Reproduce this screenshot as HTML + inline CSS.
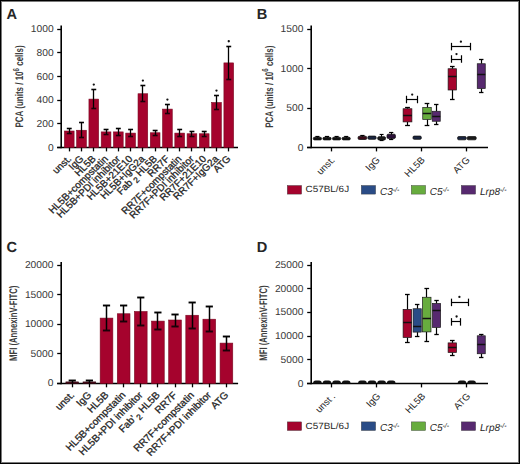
<!DOCTYPE html>
<html><head><meta charset="utf-8"><style>
html,body{margin:0;padding:0;background:#fff;}
#fig{position:relative;width:520px;height:464px;overflow:hidden;background:#fff;}
svg{position:absolute;left:0;top:0;}
text{font-family:"Liberation Sans",sans-serif;fill:#262626;text-rendering:geometricPrecision;}
.h{stroke:#222;stroke-width:0.28px;}
</style></head><body><div id="fig">
<svg width="520" height="464" viewBox="0 0 520 464">
<rect x="0.5" y="0.5" width="519" height="463" fill="none" stroke="#000" stroke-width="1"/>
<rect x="1.5" y="1.5" width="517" height="461" fill="none" stroke="#7a7a7a" stroke-width="1"/>
<text x="6.50" y="18.60" font-size="14.6" text-anchor="start" font-weight="bold">A</text>
<line x1="61.20" y1="25.50" x2="61.20" y2="148.30" stroke="#000" stroke-width="1.6"/>
<line x1="57.20" y1="147.50" x2="61.10" y2="147.50" stroke="#000" stroke-width="1.3"/>
<text transform="translate(53.60,150.50) scale(1.025,1)" font-size="10.0" text-anchor="end" style="fill:#383838">0</text>
<line x1="57.20" y1="123.50" x2="61.10" y2="123.50" stroke="#000" stroke-width="1.3"/>
<text transform="translate(53.60,126.84) scale(1.025,1)" font-size="10.0" text-anchor="end" style="fill:#383838">200</text>
<line x1="57.20" y1="100.50" x2="61.10" y2="100.50" stroke="#000" stroke-width="1.3"/>
<text transform="translate(53.60,103.18) scale(1.025,1)" font-size="10.0" text-anchor="end" style="fill:#383838">400</text>
<line x1="57.20" y1="76.50" x2="61.10" y2="76.50" stroke="#000" stroke-width="1.3"/>
<text transform="translate(53.60,79.52) scale(1.025,1)" font-size="10.0" text-anchor="end" style="fill:#383838">600</text>
<line x1="57.20" y1="52.50" x2="61.10" y2="52.50" stroke="#000" stroke-width="1.3"/>
<text transform="translate(53.60,55.86) scale(1.025,1)" font-size="10.0" text-anchor="end" style="fill:#383838">800</text>
<line x1="57.20" y1="29.50" x2="61.10" y2="29.50" stroke="#000" stroke-width="1.3"/>
<text transform="translate(53.60,32.20) scale(1.025,1)" font-size="10.0" text-anchor="end" style="fill:#383838">1000</text>
<line x1="57.10" y1="147.50" x2="238.00" y2="147.50" stroke="#000" stroke-width="1.5"/>
<rect x="64.40" y="131.00" width="9.70" height="16.60" fill="#A5032D" stroke="#7a0a22" stroke-width="0.6"/>
<line x1="69.50" y1="128.10" x2="69.50" y2="133.90" stroke="#000" stroke-width="1.3"/>
<line x1="66.80" y1="128.50" x2="71.70" y2="128.50" stroke="#000" stroke-width="1.6"/>
<line x1="66.80" y1="133.50" x2="71.70" y2="133.50" stroke="#1a0008" stroke-width="1.6"/>
<line x1="69.50" y1="147.60" x2="69.50" y2="151.40" stroke="#000" stroke-width="1.3"/>
<rect x="76.67" y="130.25" width="9.70" height="17.35" fill="#A5032D" stroke="#7a0a22" stroke-width="0.6"/>
<line x1="81.50" y1="122.90" x2="81.50" y2="137.60" stroke="#000" stroke-width="1.3"/>
<line x1="79.07" y1="122.50" x2="83.97" y2="122.50" stroke="#000" stroke-width="1.6"/>
<line x1="79.07" y1="137.50" x2="83.97" y2="137.50" stroke="#1a0008" stroke-width="1.6"/>
<line x1="81.50" y1="147.60" x2="81.50" y2="151.40" stroke="#000" stroke-width="1.3"/>
<rect x="88.94" y="99.10" width="9.70" height="48.50" fill="#A5032D" stroke="#7a0a22" stroke-width="0.6"/>
<line x1="93.50" y1="89.60" x2="93.50" y2="108.60" stroke="#000" stroke-width="1.3"/>
<line x1="91.34" y1="89.50" x2="96.24" y2="89.50" stroke="#000" stroke-width="1.6"/>
<line x1="91.34" y1="108.50" x2="96.24" y2="108.50" stroke="#1a0008" stroke-width="1.6"/>
<line x1="93.50" y1="147.60" x2="93.50" y2="151.40" stroke="#000" stroke-width="1.3"/>
<circle cx="93.79" cy="84.60" r="1.15" fill="#111"/>
<rect x="101.21" y="131.90" width="9.70" height="15.70" fill="#A5032D" stroke="#7a0a22" stroke-width="0.6"/>
<line x1="106.50" y1="129.40" x2="106.50" y2="134.40" stroke="#000" stroke-width="1.3"/>
<line x1="103.61" y1="129.50" x2="108.51" y2="129.50" stroke="#000" stroke-width="1.6"/>
<line x1="103.61" y1="134.50" x2="108.51" y2="134.50" stroke="#1a0008" stroke-width="1.6"/>
<line x1="106.50" y1="147.60" x2="106.50" y2="151.40" stroke="#000" stroke-width="1.3"/>
<rect x="113.48" y="131.90" width="9.70" height="15.70" fill="#A5032D" stroke="#7a0a22" stroke-width="0.6"/>
<line x1="118.50" y1="128.40" x2="118.50" y2="135.40" stroke="#000" stroke-width="1.3"/>
<line x1="115.88" y1="128.50" x2="120.78" y2="128.50" stroke="#000" stroke-width="1.6"/>
<line x1="115.88" y1="135.50" x2="120.78" y2="135.50" stroke="#1a0008" stroke-width="1.6"/>
<line x1="118.50" y1="147.60" x2="118.50" y2="151.40" stroke="#000" stroke-width="1.3"/>
<rect x="125.75" y="133.10" width="9.70" height="14.50" fill="#A5032D" stroke="#7a0a22" stroke-width="0.6"/>
<line x1="130.50" y1="129.60" x2="130.50" y2="136.60" stroke="#000" stroke-width="1.3"/>
<line x1="128.15" y1="129.50" x2="133.05" y2="129.50" stroke="#000" stroke-width="1.6"/>
<line x1="128.15" y1="136.50" x2="133.05" y2="136.50" stroke="#1a0008" stroke-width="1.6"/>
<line x1="130.50" y1="147.60" x2="130.50" y2="151.40" stroke="#000" stroke-width="1.3"/>
<rect x="138.02" y="93.75" width="9.70" height="53.85" fill="#A5032D" stroke="#7a0a22" stroke-width="0.6"/>
<line x1="142.50" y1="85.60" x2="142.50" y2="101.90" stroke="#000" stroke-width="1.3"/>
<line x1="140.42" y1="85.50" x2="145.32" y2="85.50" stroke="#000" stroke-width="1.6"/>
<line x1="140.42" y1="101.50" x2="145.32" y2="101.50" stroke="#1a0008" stroke-width="1.6"/>
<line x1="142.50" y1="147.60" x2="142.50" y2="151.40" stroke="#000" stroke-width="1.3"/>
<circle cx="142.87" cy="80.60" r="1.15" fill="#111"/>
<rect x="150.29" y="132.75" width="9.70" height="14.85" fill="#A5032D" stroke="#7a0a22" stroke-width="0.6"/>
<line x1="155.50" y1="130.25" x2="155.50" y2="135.25" stroke="#000" stroke-width="1.3"/>
<line x1="152.69" y1="130.50" x2="157.59" y2="130.50" stroke="#000" stroke-width="1.6"/>
<line x1="152.69" y1="135.50" x2="157.59" y2="135.50" stroke="#1a0008" stroke-width="1.6"/>
<line x1="155.50" y1="147.60" x2="155.50" y2="151.40" stroke="#000" stroke-width="1.3"/>
<rect x="162.56" y="109.10" width="9.70" height="38.50" fill="#A5032D" stroke="#7a0a22" stroke-width="0.6"/>
<line x1="167.50" y1="104.60" x2="167.50" y2="113.60" stroke="#000" stroke-width="1.3"/>
<line x1="164.96" y1="104.50" x2="169.86" y2="104.50" stroke="#000" stroke-width="1.6"/>
<line x1="164.96" y1="113.50" x2="169.86" y2="113.50" stroke="#1a0008" stroke-width="1.6"/>
<line x1="167.50" y1="147.60" x2="167.50" y2="151.40" stroke="#000" stroke-width="1.3"/>
<circle cx="167.41" cy="99.60" r="1.15" fill="#111"/>
<rect x="174.83" y="133.10" width="9.70" height="14.50" fill="#A5032D" stroke="#7a0a22" stroke-width="0.6"/>
<line x1="179.50" y1="129.75" x2="179.50" y2="136.45" stroke="#000" stroke-width="1.3"/>
<line x1="177.23" y1="129.50" x2="182.13" y2="129.50" stroke="#000" stroke-width="1.6"/>
<line x1="177.23" y1="136.50" x2="182.13" y2="136.50" stroke="#1a0008" stroke-width="1.6"/>
<line x1="179.50" y1="147.60" x2="179.50" y2="151.40" stroke="#000" stroke-width="1.3"/>
<rect x="187.10" y="133.75" width="9.70" height="13.85" fill="#A5032D" stroke="#7a0a22" stroke-width="0.6"/>
<line x1="191.50" y1="131.00" x2="191.50" y2="136.50" stroke="#000" stroke-width="1.3"/>
<line x1="189.50" y1="131.50" x2="194.40" y2="131.50" stroke="#000" stroke-width="1.6"/>
<line x1="189.50" y1="136.50" x2="194.40" y2="136.50" stroke="#1a0008" stroke-width="1.6"/>
<line x1="191.50" y1="147.60" x2="191.50" y2="151.40" stroke="#000" stroke-width="1.3"/>
<rect x="199.37" y="133.75" width="9.70" height="13.85" fill="#A5032D" stroke="#7a0a22" stroke-width="0.6"/>
<line x1="204.50" y1="131.50" x2="204.50" y2="136.00" stroke="#000" stroke-width="1.3"/>
<line x1="201.77" y1="131.50" x2="206.67" y2="131.50" stroke="#000" stroke-width="1.6"/>
<line x1="201.77" y1="136.50" x2="206.67" y2="136.50" stroke="#1a0008" stroke-width="1.6"/>
<line x1="204.50" y1="147.60" x2="204.50" y2="151.40" stroke="#000" stroke-width="1.3"/>
<rect x="211.64" y="102.50" width="9.70" height="45.10" fill="#A5032D" stroke="#7a0a22" stroke-width="0.6"/>
<line x1="216.50" y1="95.60" x2="216.50" y2="109.40" stroke="#000" stroke-width="1.3"/>
<line x1="214.04" y1="95.50" x2="218.94" y2="95.50" stroke="#000" stroke-width="1.6"/>
<line x1="214.04" y1="109.50" x2="218.94" y2="109.50" stroke="#1a0008" stroke-width="1.6"/>
<line x1="216.50" y1="147.60" x2="216.50" y2="151.40" stroke="#000" stroke-width="1.3"/>
<circle cx="216.49" cy="90.60" r="1.15" fill="#111"/>
<rect x="223.91" y="62.90" width="9.70" height="84.70" fill="#A5032D" stroke="#7a0a22" stroke-width="0.6"/>
<line x1="228.50" y1="46.25" x2="228.50" y2="79.55" stroke="#000" stroke-width="1.3"/>
<line x1="226.31" y1="46.50" x2="231.21" y2="46.50" stroke="#000" stroke-width="1.6"/>
<line x1="226.31" y1="79.50" x2="231.21" y2="79.50" stroke="#1a0008" stroke-width="1.6"/>
<line x1="228.50" y1="147.60" x2="228.50" y2="151.40" stroke="#000" stroke-width="1.3"/>
<circle cx="228.76" cy="41.25" r="1.15" fill="#111"/>
<text class="h" transform="translate(71.85,159.40) scale(1.05,1) rotate(-45.7)" font-size="9.65" text-anchor="end">unst.</text>
<text class="h" transform="translate(84.12,159.40) scale(1.05,1) rotate(-45.7)" font-size="9.65" text-anchor="end">IgG</text>
<text class="h" transform="translate(96.39,159.40) scale(1.05,1) rotate(-45.7)" font-size="9.65" text-anchor="end">HL5B</text>
<text class="h" transform="translate(108.66,159.40) scale(1.05,1) rotate(-45.7)" font-size="9.65" text-anchor="end">HL5B+compstatin</text>
<text class="h" transform="translate(120.93,159.40) scale(1.05,1) rotate(-45.7)" font-size="9.65" text-anchor="end">HL5B+PDI inhibitor</text>
<text class="h" transform="translate(133.20,159.40) scale(1.05,1) rotate(-45.7)" font-size="9.65" text-anchor="end">HL5B+21E10</text>
<text class="h" transform="translate(145.47,159.40) scale(1.05,1) rotate(-45.7)" font-size="9.65" text-anchor="end">HL5B+IgG2a</text>
<text class="h" transform="translate(157.74,159.40) scale(1.05,1) rotate(-45.7)" font-size="9.65" text-anchor="end">Fab<tspan font-size="8" dy="2.6"> 2</tspan><tspan dy="-2.6"> HL5B</tspan></text>
<text class="h" transform="translate(170.01,159.40) scale(1.05,1) rotate(-45.7)" font-size="9.65" text-anchor="end">RR7F</text>
<text class="h" transform="translate(182.28,159.40) scale(1.05,1) rotate(-45.7)" font-size="9.65" text-anchor="end">RR7F+compstatin</text>
<text class="h" transform="translate(194.55,159.40) scale(1.05,1) rotate(-45.7)" font-size="9.65" text-anchor="end">RR7F+PDI inhibitor</text>
<text class="h" transform="translate(206.82,159.40) scale(1.05,1) rotate(-45.7)" font-size="9.65" text-anchor="end">RR7F+21E10</text>
<text class="h" transform="translate(219.09,159.40) scale(1.05,1) rotate(-45.7)" font-size="9.65" text-anchor="end">RR7F+IgG2a</text>
<text class="h" transform="translate(231.36,159.40) scale(1.05,1) rotate(-45.7)" font-size="9.65" text-anchor="end">ATG</text>
<text transform="translate(22.80,127.50) rotate(-90) scale(0.726,1)" font-size="11" font-weight="bold" style="fill:#3c3c3c">PCA (units / 10<tspan font-size="8.5" dy="-4.2">6</tspan><tspan dy="4.2"> cells)</tspan></text>
<text x="6.60" y="251.90" font-size="14.6" text-anchor="start" font-weight="bold">C</text>
<line x1="61.20" y1="261.90" x2="61.20" y2="384.20" stroke="#000" stroke-width="1.6"/>
<line x1="57.20" y1="383.50" x2="61.10" y2="383.50" stroke="#000" stroke-width="1.3"/>
<text transform="translate(53.40,386.40) scale(1.025,1)" font-size="10.0" text-anchor="end" style="fill:#383838">0</text>
<line x1="57.20" y1="353.50" x2="61.10" y2="353.50" stroke="#000" stroke-width="1.3"/>
<text transform="translate(53.40,356.84) scale(1.025,1)" font-size="10.0" text-anchor="end" style="fill:#383838">5000</text>
<line x1="57.20" y1="324.50" x2="61.10" y2="324.50" stroke="#000" stroke-width="1.3"/>
<text transform="translate(53.40,327.27) scale(1.025,1)" font-size="10.0" text-anchor="end" style="fill:#383838">10000</text>
<line x1="57.20" y1="294.50" x2="61.10" y2="294.50" stroke="#000" stroke-width="1.3"/>
<text transform="translate(53.40,297.71) scale(1.025,1)" font-size="10.0" text-anchor="end" style="fill:#383838">15000</text>
<line x1="57.20" y1="265.50" x2="61.10" y2="265.50" stroke="#000" stroke-width="1.3"/>
<text transform="translate(53.40,268.15) scale(1.025,1)" font-size="10.0" text-anchor="end" style="fill:#383838">20000</text>
<line x1="57.10" y1="383.50" x2="238.10" y2="383.50" stroke="#000" stroke-width="1.5"/>
<rect x="65.90" y="381.90" width="12.70" height="1.60" fill="#4a0a1a" stroke="#300510" stroke-width="0.6"/>
<line x1="72.50" y1="380.60" x2="72.50" y2="383.20" stroke="#000" stroke-width="1.5"/>
<line x1="68.65" y1="380.50" x2="75.85" y2="380.50" stroke="#000" stroke-width="1.9"/>
<line x1="72.50" y1="383.50" x2="72.50" y2="387.30" stroke="#000" stroke-width="1.3"/>
<rect x="83.03" y="381.90" width="12.70" height="1.60" fill="#4a0a1a" stroke="#300510" stroke-width="0.6"/>
<line x1="89.50" y1="380.60" x2="89.50" y2="383.20" stroke="#000" stroke-width="1.5"/>
<line x1="85.78" y1="380.50" x2="92.98" y2="380.50" stroke="#000" stroke-width="1.9"/>
<line x1="89.50" y1="383.50" x2="89.50" y2="387.30" stroke="#000" stroke-width="1.3"/>
<rect x="100.16" y="318.10" width="12.70" height="65.40" fill="#A5032D" stroke="#7a0a22" stroke-width="0.6"/>
<line x1="106.50" y1="305.60" x2="106.50" y2="330.60" stroke="#000" stroke-width="1.5"/>
<line x1="102.91" y1="305.50" x2="110.11" y2="305.50" stroke="#000" stroke-width="1.9"/>
<line x1="102.91" y1="330.50" x2="110.11" y2="330.50" stroke="#1a0008" stroke-width="1.9"/>
<line x1="106.50" y1="383.50" x2="106.50" y2="387.30" stroke="#000" stroke-width="1.3"/>
<rect x="117.29" y="313.75" width="12.70" height="69.75" fill="#A5032D" stroke="#7a0a22" stroke-width="0.6"/>
<line x1="123.50" y1="305.60" x2="123.50" y2="321.90" stroke="#000" stroke-width="1.5"/>
<line x1="120.04" y1="305.50" x2="127.24" y2="305.50" stroke="#000" stroke-width="1.9"/>
<line x1="120.04" y1="321.50" x2="127.24" y2="321.50" stroke="#1a0008" stroke-width="1.9"/>
<line x1="123.50" y1="383.50" x2="123.50" y2="387.30" stroke="#000" stroke-width="1.3"/>
<rect x="134.42" y="311.50" width="12.70" height="72.00" fill="#A5032D" stroke="#7a0a22" stroke-width="0.6"/>
<line x1="140.50" y1="297.25" x2="140.50" y2="325.75" stroke="#000" stroke-width="1.5"/>
<line x1="137.17" y1="297.50" x2="144.37" y2="297.50" stroke="#000" stroke-width="1.9"/>
<line x1="137.17" y1="325.50" x2="144.37" y2="325.50" stroke="#1a0008" stroke-width="1.9"/>
<line x1="140.50" y1="383.50" x2="140.50" y2="387.30" stroke="#000" stroke-width="1.3"/>
<rect x="151.55" y="321.10" width="12.70" height="62.40" fill="#A5032D" stroke="#7a0a22" stroke-width="0.6"/>
<line x1="157.50" y1="312.50" x2="157.50" y2="329.70" stroke="#000" stroke-width="1.5"/>
<line x1="154.30" y1="312.50" x2="161.50" y2="312.50" stroke="#000" stroke-width="1.9"/>
<line x1="154.30" y1="329.50" x2="161.50" y2="329.50" stroke="#1a0008" stroke-width="1.9"/>
<line x1="157.50" y1="383.50" x2="157.50" y2="387.30" stroke="#000" stroke-width="1.3"/>
<rect x="168.68" y="320.00" width="12.70" height="63.50" fill="#A5032D" stroke="#7a0a22" stroke-width="0.6"/>
<line x1="175.50" y1="314.00" x2="175.50" y2="326.00" stroke="#000" stroke-width="1.5"/>
<line x1="171.43" y1="314.50" x2="178.63" y2="314.50" stroke="#000" stroke-width="1.9"/>
<line x1="171.43" y1="326.50" x2="178.63" y2="326.50" stroke="#1a0008" stroke-width="1.9"/>
<line x1="175.50" y1="383.50" x2="175.50" y2="387.30" stroke="#000" stroke-width="1.3"/>
<rect x="185.81" y="315.25" width="12.70" height="68.25" fill="#A5032D" stroke="#7a0a22" stroke-width="0.6"/>
<line x1="192.50" y1="302.25" x2="192.50" y2="328.25" stroke="#000" stroke-width="1.5"/>
<line x1="188.56" y1="302.50" x2="195.76" y2="302.50" stroke="#000" stroke-width="1.9"/>
<line x1="188.56" y1="328.50" x2="195.76" y2="328.50" stroke="#1a0008" stroke-width="1.9"/>
<line x1="192.50" y1="383.50" x2="192.50" y2="387.30" stroke="#000" stroke-width="1.3"/>
<rect x="202.94" y="319.20" width="12.70" height="64.30" fill="#A5032D" stroke="#7a0a22" stroke-width="0.6"/>
<line x1="209.50" y1="306.90" x2="209.50" y2="331.50" stroke="#000" stroke-width="1.5"/>
<line x1="205.69" y1="306.50" x2="212.89" y2="306.50" stroke="#000" stroke-width="1.9"/>
<line x1="205.69" y1="331.50" x2="212.89" y2="331.50" stroke="#1a0008" stroke-width="1.9"/>
<line x1="209.50" y1="383.50" x2="209.50" y2="387.30" stroke="#000" stroke-width="1.3"/>
<rect x="220.07" y="343.10" width="12.70" height="40.40" fill="#A5032D" stroke="#7a0a22" stroke-width="0.6"/>
<line x1="226.50" y1="336.00" x2="226.50" y2="350.20" stroke="#000" stroke-width="1.5"/>
<line x1="222.82" y1="336.50" x2="230.02" y2="336.50" stroke="#000" stroke-width="1.9"/>
<line x1="222.82" y1="350.50" x2="230.02" y2="350.50" stroke="#1a0008" stroke-width="1.9"/>
<line x1="226.50" y1="383.50" x2="226.50" y2="387.30" stroke="#000" stroke-width="1.3"/>
<text class="h" transform="translate(74.85,395.60) scale(1.05,1) rotate(-46.2)" font-size="9.75" text-anchor="end">unst.</text>
<text class="h" transform="translate(91.98,395.60) scale(1.05,1) rotate(-46.2)" font-size="9.75" text-anchor="end">IgG</text>
<text class="h" transform="translate(109.11,395.60) scale(1.05,1) rotate(-46.2)" font-size="9.75" text-anchor="end">HL5B</text>
<text class="h" transform="translate(126.24,395.60) scale(1.05,1) rotate(-46.2)" font-size="9.75" text-anchor="end">HL5B+compstatin</text>
<text class="h" transform="translate(143.37,395.60) scale(1.05,1) rotate(-46.2)" font-size="9.75" text-anchor="end">HL5B+PDI inhibitor</text>
<text class="h" transform="translate(160.50,395.60) scale(1.05,1) rotate(-46.2)" font-size="9.75" text-anchor="end">Fab’<tspan font-size="8" dy="3" dx="1.2">2</tspan><tspan dy="-3"> HL5B</tspan></text>
<text class="h" transform="translate(177.63,395.60) scale(1.05,1) rotate(-46.2)" font-size="9.75" text-anchor="end">RR7F</text>
<text class="h" transform="translate(194.76,395.60) scale(1.05,1) rotate(-46.2)" font-size="9.75" text-anchor="end">RR7F+compstatin</text>
<text class="h" transform="translate(211.89,395.60) scale(1.05,1) rotate(-46.2)" font-size="9.75" text-anchor="end">RR7F+PDI inhibitor</text>
<text class="h" transform="translate(229.02,395.60) scale(1.05,1) rotate(-46.2)" font-size="9.75" text-anchor="end">ATG</text>
<text transform="translate(16.70,360.90) rotate(-90) scale(0.7,1)" font-size="11" font-weight="bold" style="fill:#3c3c3c">MFI (AnnexinV-FITC)</text>
<text x="256.80" y="18.50" font-size="14.6" text-anchor="start" font-weight="bold">B</text>
<line x1="311.20" y1="25.60" x2="311.20" y2="148.30" stroke="#000" stroke-width="1.6"/>
<line x1="307.20" y1="147.50" x2="311.20" y2="147.50" stroke="#000" stroke-width="1.3"/>
<text transform="translate(303.40,150.50) scale(1.025,1)" font-size="10.0" text-anchor="end" style="fill:#383838">0</text>
<line x1="307.20" y1="108.50" x2="311.20" y2="108.50" stroke="#000" stroke-width="1.3"/>
<text transform="translate(303.40,111.10) scale(1.025,1)" font-size="10.0" text-anchor="end" style="fill:#383838">500</text>
<line x1="307.20" y1="68.50" x2="311.20" y2="68.50" stroke="#000" stroke-width="1.3"/>
<text transform="translate(303.40,71.70) scale(1.025,1)" font-size="10.0" text-anchor="end" style="fill:#383838">1000</text>
<line x1="307.20" y1="29.50" x2="311.20" y2="29.50" stroke="#000" stroke-width="1.3"/>
<text transform="translate(303.40,32.30) scale(1.025,1)" font-size="10.0" text-anchor="end" style="fill:#383838">1500</text>
<line x1="307.00" y1="147.50" x2="488.00" y2="147.50" stroke="#000" stroke-width="1.5"/>
<line x1="331.50" y1="147.60" x2="331.50" y2="151.40" stroke="#000" stroke-width="1.3"/>
<line x1="376.50" y1="147.60" x2="376.50" y2="151.40" stroke="#000" stroke-width="1.3"/>
<line x1="421.50" y1="147.60" x2="421.50" y2="151.40" stroke="#000" stroke-width="1.3"/>
<line x1="466.50" y1="147.60" x2="466.50" y2="151.40" stroke="#000" stroke-width="1.3"/>
<line x1="317.50" y1="136.00" x2="317.50" y2="138.60" stroke="#000" stroke-width="1.0"/>
<line x1="315.35" y1="136.50" x2="319.45" y2="136.50" stroke="#000" stroke-width="1.2"/>
<rect x="313.30" y="137.30" width="8.20" height="2.60" rx="1.2" fill="#111" stroke="#111" stroke-width="0.8"/>
<line x1="327.50" y1="136.00" x2="327.50" y2="138.60" stroke="#000" stroke-width="1.0"/>
<line x1="324.95" y1="136.50" x2="329.05" y2="136.50" stroke="#000" stroke-width="1.2"/>
<rect x="322.90" y="137.30" width="8.20" height="2.60" rx="1.2" fill="#111" stroke="#111" stroke-width="0.8"/>
<line x1="336.50" y1="136.00" x2="336.50" y2="138.60" stroke="#000" stroke-width="1.0"/>
<line x1="334.55" y1="136.50" x2="338.65" y2="136.50" stroke="#000" stroke-width="1.2"/>
<rect x="332.50" y="137.30" width="8.20" height="2.60" rx="1.2" fill="#111" stroke="#111" stroke-width="0.8"/>
<line x1="346.50" y1="136.00" x2="346.50" y2="138.60" stroke="#000" stroke-width="1.0"/>
<line x1="344.15" y1="136.50" x2="348.25" y2="136.50" stroke="#000" stroke-width="1.2"/>
<rect x="342.10" y="137.30" width="8.20" height="2.60" rx="1.2" fill="#111" stroke="#111" stroke-width="0.8"/>
<line x1="362.50" y1="135.40" x2="362.50" y2="137.90" stroke="#000" stroke-width="1.0"/>
<line x1="360.25" y1="135.50" x2="364.55" y2="135.50" stroke="#000" stroke-width="1.2"/>
<rect x="358.10" y="136.30" width="8.60" height="3.20" rx="1.2" fill="#3a0a18" stroke="#111" stroke-width="0.8"/>
<rect x="367.90" y="136.10" width="8.20" height="3.20" rx="1.2" fill="#1a2540" stroke="#111" stroke-width="0.8"/>
<line x1="381.50" y1="134.30" x2="381.50" y2="138.30" stroke="#000" stroke-width="1.0"/>
<line x1="379.65" y1="134.50" x2="383.55" y2="134.50" stroke="#000" stroke-width="1.2"/>
<line x1="381.50" y1="138.30" x2="381.50" y2="140.60" stroke="#000" stroke-width="1.0"/>
<line x1="379.65" y1="140.50" x2="383.55" y2="140.50" stroke="#000" stroke-width="1.2"/>
<rect x="377.70" y="136.70" width="7.80" height="3.20" rx="1.2" fill="#1a1a1a" stroke="#111" stroke-width="0.8"/>
<line x1="391.50" y1="132.40" x2="391.50" y2="136.30" stroke="#000" stroke-width="1.0"/>
<line x1="389.10" y1="132.50" x2="393.30" y2="132.50" stroke="#000" stroke-width="1.2"/>
<line x1="391.50" y1="136.30" x2="391.50" y2="139.60" stroke="#000" stroke-width="1.0"/>
<line x1="389.10" y1="139.50" x2="393.30" y2="139.50" stroke="#000" stroke-width="1.2"/>
<rect x="387.00" y="134.20" width="8.40" height="4.20" rx="1.2" fill="#2a1038" stroke="#111" stroke-width="0.8"/>
<line x1="407.50" y1="107.50" x2="407.50" y2="108.75" stroke="#000" stroke-width="1.2"/>
<line x1="407.50" y1="121.90" x2="407.50" y2="125.25" stroke="#000" stroke-width="1.2"/>
<line x1="405.08" y1="107.50" x2="409.92" y2="107.50" stroke="#000" stroke-width="1.3"/>
<line x1="405.08" y1="125.50" x2="409.92" y2="125.50" stroke="#000" stroke-width="1.3"/>
<rect x="403.10" y="108.75" width="8.80" height="13.15" fill="#A5032D" stroke="#1a1a1a" stroke-width="0.7"/>
<line x1="403.10" y1="115.50" x2="411.90" y2="115.50" stroke="#111" stroke-width="1.5"/>
<rect x="413.00" y="136.10" width="8.30" height="3.20" rx="1.2" fill="#1a2540" stroke="#111" stroke-width="0.8"/>
<line x1="427.50" y1="103.75" x2="427.50" y2="107.50" stroke="#000" stroke-width="1.2"/>
<line x1="427.50" y1="119.40" x2="427.50" y2="125.00" stroke="#000" stroke-width="1.2"/>
<line x1="424.66" y1="103.50" x2="429.34" y2="103.50" stroke="#000" stroke-width="1.3"/>
<line x1="424.66" y1="125.50" x2="429.34" y2="125.50" stroke="#000" stroke-width="1.3"/>
<rect x="422.75" y="107.50" width="8.50" height="11.90" fill="#67AC3E" stroke="#1a1a1a" stroke-width="0.7"/>
<line x1="422.75" y1="113.50" x2="431.25" y2="113.50" stroke="#111" stroke-width="1.5"/>
<line x1="436.50" y1="104.75" x2="436.50" y2="111.25" stroke="#000" stroke-width="1.2"/>
<line x1="436.50" y1="121.25" x2="436.50" y2="124.40" stroke="#000" stroke-width="1.2"/>
<line x1="434.05" y1="104.50" x2="438.45" y2="104.50" stroke="#000" stroke-width="1.3"/>
<line x1="434.05" y1="124.50" x2="438.45" y2="124.50" stroke="#000" stroke-width="1.3"/>
<rect x="432.25" y="111.25" width="8.00" height="10.00" fill="#57296F" stroke="#1a1a1a" stroke-width="0.7"/>
<line x1="432.25" y1="116.50" x2="440.25" y2="116.50" stroke="#111" stroke-width="1.5"/>
<line x1="452.50" y1="66.25" x2="452.50" y2="68.75" stroke="#000" stroke-width="1.2"/>
<line x1="452.50" y1="90.00" x2="452.50" y2="99.40" stroke="#000" stroke-width="1.2"/>
<line x1="449.99" y1="66.50" x2="454.61" y2="66.50" stroke="#000" stroke-width="1.3"/>
<line x1="449.99" y1="99.50" x2="454.61" y2="99.50" stroke="#000" stroke-width="1.3"/>
<rect x="448.10" y="68.75" width="8.40" height="21.25" fill="#A5032D" stroke="#1a1a1a" stroke-width="0.7"/>
<line x1="448.10" y1="76.50" x2="456.50" y2="76.50" stroke="#111" stroke-width="1.5"/>
<rect x="457.60" y="136.60" width="8.60" height="3.20" rx="1.2" fill="#1a2540" stroke="#111" stroke-width="0.8"/>
<rect x="467.20" y="136.60" width="9.00" height="3.20" rx="1.2" fill="#1a1a1a" stroke="#111" stroke-width="0.8"/>
<line x1="481.50" y1="59.40" x2="481.50" y2="63.75" stroke="#000" stroke-width="1.2"/>
<line x1="481.50" y1="88.50" x2="481.50" y2="92.50" stroke="#000" stroke-width="1.2"/>
<line x1="479.05" y1="59.50" x2="483.45" y2="59.50" stroke="#000" stroke-width="1.3"/>
<line x1="479.05" y1="92.50" x2="483.45" y2="92.50" stroke="#000" stroke-width="1.3"/>
<rect x="477.25" y="63.75" width="8.00" height="24.75" fill="#57296F" stroke="#1a1a1a" stroke-width="0.7"/>
<line x1="477.25" y1="74.50" x2="485.25" y2="74.50" stroke="#111" stroke-width="1.5"/>
<line x1="406.50" y1="99.50" x2="417.20" y2="99.50" stroke="#000" stroke-width="1.2"/>
<line x1="406.50" y1="95.75" x2="406.50" y2="103.25" stroke="#000" stroke-width="1.2"/>
<line x1="417.50" y1="95.75" x2="417.50" y2="103.25" stroke="#000" stroke-width="1.2"/>
<circle cx="412.20" cy="94.60" r="1.15" fill="#111"/>
<line x1="451.00" y1="59.50" x2="461.90" y2="59.50" stroke="#000" stroke-width="1.2"/>
<line x1="451.50" y1="55.25" x2="451.50" y2="62.75" stroke="#000" stroke-width="1.2"/>
<line x1="461.50" y1="55.25" x2="461.50" y2="62.75" stroke="#000" stroke-width="1.2"/>
<circle cx="456.50" cy="54.10" r="1.15" fill="#111"/>
<line x1="451.00" y1="46.50" x2="470.60" y2="46.50" stroke="#000" stroke-width="1.2"/>
<line x1="451.50" y1="42.85" x2="451.50" y2="50.35" stroke="#000" stroke-width="1.2"/>
<line x1="470.50" y1="42.85" x2="470.50" y2="50.35" stroke="#000" stroke-width="1.2"/>
<circle cx="460.90" cy="41.70" r="1.15" fill="#111"/>
<text transform="translate(335.40,160.60) scale(1.05,1) rotate(-46.5)" font-size="9.3" text-anchor="end">unst.</text>
<text transform="translate(380.40,160.60) scale(1.05,1) rotate(-46.5)" font-size="9.3" text-anchor="end">IgG</text>
<text transform="translate(425.40,160.60) scale(1.05,1) rotate(-46.5)" font-size="9.3" text-anchor="end">HL5B</text>
<text transform="translate(470.40,160.60) scale(1.05,1) rotate(-46.5)" font-size="9.3" text-anchor="end">ATG</text>
<text transform="translate(272.60,127.75) rotate(-90) scale(0.726,1)" font-size="11" font-weight="bold" style="fill:#3c3c3c">PCA (units / 10<tspan font-size="8.5" dy="-4.2">6</tspan><tspan dy="4.2"> cells)</tspan></text>
<rect x="287.30" y="185.50" width="14.30" height="8.60" fill="#A5032D" stroke="#333" stroke-width="0.4"/>
<text transform="translate(305.6,192.10) scale(1.1,1)" font-size="9.0">C57BL/6J</text>
<rect x="361.30" y="185.50" width="14.30" height="8.60" fill="#2A4C86" stroke="#333" stroke-width="0.4"/>
<text transform="translate(380.0,194.70) scale(0.98,1)" font-size="10.2" font-style="italic">C3<tspan font-size="7" dy="-3">-/-</tspan></text>
<rect x="411.30" y="185.50" width="14.30" height="8.60" fill="#67AC3E" stroke="#333" stroke-width="0.4"/>
<text transform="translate(429.8,194.70) scale(0.98,1)" font-size="10.2" font-style="italic">C5<tspan font-size="7" dy="-3">-/-</tspan></text>
<rect x="461.30" y="185.50" width="14.30" height="8.60" fill="#57296F" stroke="#333" stroke-width="0.4"/>
<text transform="translate(480.0,194.70) scale(0.98,1)" font-size="10.2" font-style="italic">Lrp8<tspan font-size="7" dy="-3">-/-</tspan></text>
<text x="256.80" y="251.90" font-size="14.6" text-anchor="start" font-weight="bold">D</text>
<line x1="311.20" y1="261.90" x2="311.20" y2="384.30" stroke="#000" stroke-width="1.6"/>
<line x1="307.20" y1="383.50" x2="311.20" y2="383.50" stroke="#000" stroke-width="1.3"/>
<text transform="translate(303.40,386.50) scale(1.025,1)" font-size="10.0" text-anchor="end" style="fill:#383838">0</text>
<line x1="307.20" y1="359.50" x2="311.20" y2="359.50" stroke="#000" stroke-width="1.3"/>
<text transform="translate(303.40,362.83) scale(1.025,1)" font-size="10.0" text-anchor="end" style="fill:#383838">5000</text>
<line x1="307.20" y1="336.50" x2="311.20" y2="336.50" stroke="#000" stroke-width="1.3"/>
<text transform="translate(303.40,339.16) scale(1.025,1)" font-size="10.0" text-anchor="end" style="fill:#383838">10000</text>
<line x1="307.20" y1="312.50" x2="311.20" y2="312.50" stroke="#000" stroke-width="1.3"/>
<text transform="translate(303.40,315.49) scale(1.025,1)" font-size="10.0" text-anchor="end" style="fill:#383838">15000</text>
<line x1="307.20" y1="288.50" x2="311.20" y2="288.50" stroke="#000" stroke-width="1.3"/>
<text transform="translate(303.40,291.82) scale(1.025,1)" font-size="10.0" text-anchor="end" style="fill:#383838">20000</text>
<line x1="307.20" y1="265.50" x2="311.20" y2="265.50" stroke="#000" stroke-width="1.3"/>
<text transform="translate(303.40,268.15) scale(1.025,1)" font-size="10.0" text-anchor="end" style="fill:#383838">25000</text>
<line x1="307.00" y1="383.50" x2="488.00" y2="383.50" stroke="#000" stroke-width="1.5"/>
<line x1="331.50" y1="383.60" x2="331.50" y2="387.40" stroke="#000" stroke-width="1.3"/>
<line x1="376.50" y1="383.60" x2="376.50" y2="387.40" stroke="#000" stroke-width="1.3"/>
<line x1="421.50" y1="383.60" x2="421.50" y2="387.40" stroke="#000" stroke-width="1.3"/>
<line x1="466.50" y1="383.60" x2="466.50" y2="387.40" stroke="#000" stroke-width="1.3"/>
<path d="M313.10,383.60 L313.10,383.20 Q313.10,380.60 315.70,380.60 L319.10,380.60 Q321.70,380.60 321.70,383.20 L321.70,383.60 Z" fill="#111"/>
<path d="M322.70,383.60 L322.70,383.20 Q322.70,380.60 325.30,380.60 L328.70,380.60 Q331.30,380.60 331.30,383.20 L331.30,383.60 Z" fill="#111"/>
<path d="M332.30,383.60 L332.30,383.20 Q332.30,380.60 334.90,380.60 L338.30,380.60 Q340.90,380.60 340.90,383.20 L340.90,383.60 Z" fill="#111"/>
<path d="M341.90,383.60 L341.90,383.20 Q341.90,380.60 344.50,380.60 L347.90,380.60 Q350.50,380.60 350.50,383.20 L350.50,383.60 Z" fill="#111"/>
<path d="M358.10,383.60 L358.10,383.20 Q358.10,380.60 360.70,380.60 L364.10,380.60 Q366.70,380.60 366.70,383.20 L366.70,383.60 Z" fill="#111"/>
<path d="M367.70,383.60 L367.70,383.20 Q367.70,380.60 370.30,380.60 L373.70,380.60 Q376.30,380.60 376.30,383.20 L376.30,383.60 Z" fill="#111"/>
<path d="M377.30,383.60 L377.30,383.20 Q377.30,380.60 379.90,380.60 L383.30,380.60 Q385.90,380.60 385.90,383.20 L385.90,383.60 Z" fill="#111"/>
<path d="M386.90,383.60 L386.90,383.20 Q386.90,380.60 389.50,380.60 L392.90,380.60 Q395.50,380.60 395.50,383.20 L395.50,383.60 Z" fill="#111"/>
<path d="M457.70,383.60 L457.70,383.20 Q457.70,380.60 460.30,380.60 L463.70,380.60 Q466.30,380.60 466.30,383.20 L466.30,383.60 Z" fill="#111"/>
<path d="M467.30,383.60 L467.30,383.20 Q467.30,380.60 469.90,380.60 L473.30,380.60 Q475.90,380.60 475.90,383.20 L475.90,383.60 Z" fill="#111"/>
<line x1="407.50" y1="294.40" x2="407.50" y2="309.40" stroke="#000" stroke-width="1.2"/>
<line x1="407.50" y1="337.50" x2="407.50" y2="342.25" stroke="#000" stroke-width="1.2"/>
<line x1="405.01" y1="294.50" x2="409.69" y2="294.50" stroke="#000" stroke-width="1.3"/>
<line x1="405.01" y1="342.50" x2="409.69" y2="342.50" stroke="#000" stroke-width="1.3"/>
<rect x="403.10" y="309.40" width="8.50" height="28.10" fill="#A5032D" stroke="#1a1a1a" stroke-width="0.7"/>
<line x1="403.10" y1="322.50" x2="411.60" y2="322.50" stroke="#111" stroke-width="1.5"/>
<line x1="417.50" y1="304.40" x2="417.50" y2="308.75" stroke="#000" stroke-width="1.2"/>
<line x1="417.50" y1="332.10" x2="417.50" y2="336.25" stroke="#000" stroke-width="1.2"/>
<line x1="414.93" y1="304.50" x2="419.42" y2="304.50" stroke="#000" stroke-width="1.3"/>
<line x1="414.93" y1="336.50" x2="419.42" y2="336.50" stroke="#000" stroke-width="1.3"/>
<rect x="413.10" y="308.75" width="8.15" height="23.35" fill="#2A4C86" stroke="#1a1a1a" stroke-width="0.7"/>
<line x1="413.10" y1="326.50" x2="421.25" y2="326.50" stroke="#111" stroke-width="1.5"/>
<line x1="426.50" y1="288.50" x2="426.50" y2="297.25" stroke="#000" stroke-width="1.2"/>
<line x1="426.50" y1="331.90" x2="426.50" y2="341.90" stroke="#000" stroke-width="1.2"/>
<line x1="424.41" y1="288.50" x2="429.09" y2="288.50" stroke="#000" stroke-width="1.3"/>
<line x1="424.41" y1="341.50" x2="429.09" y2="341.50" stroke="#000" stroke-width="1.3"/>
<rect x="422.50" y="297.25" width="8.50" height="34.65" fill="#67AC3E" stroke="#1a1a1a" stroke-width="0.7"/>
<line x1="422.50" y1="318.50" x2="431.00" y2="318.50" stroke="#111" stroke-width="1.5"/>
<line x1="436.50" y1="300.00" x2="436.50" y2="303.50" stroke="#000" stroke-width="1.2"/>
<line x1="436.50" y1="327.40" x2="436.50" y2="334.40" stroke="#000" stroke-width="1.2"/>
<line x1="434.32" y1="300.50" x2="438.78" y2="300.50" stroke="#000" stroke-width="1.3"/>
<line x1="434.32" y1="334.50" x2="438.78" y2="334.50" stroke="#000" stroke-width="1.3"/>
<rect x="432.50" y="303.50" width="8.10" height="23.90" fill="#57296F" stroke="#1a1a1a" stroke-width="0.7"/>
<line x1="432.50" y1="310.50" x2="440.60" y2="310.50" stroke="#111" stroke-width="1.5"/>
<line x1="452.50" y1="340.50" x2="452.50" y2="342.90" stroke="#000" stroke-width="1.2"/>
<line x1="452.50" y1="352.50" x2="452.50" y2="355.20" stroke="#000" stroke-width="1.2"/>
<line x1="449.99" y1="340.50" x2="454.61" y2="340.50" stroke="#000" stroke-width="1.3"/>
<line x1="449.99" y1="355.50" x2="454.61" y2="355.50" stroke="#000" stroke-width="1.3"/>
<rect x="448.10" y="342.90" width="8.40" height="9.60" fill="#A5032D" stroke="#1a1a1a" stroke-width="0.7"/>
<line x1="448.10" y1="347.50" x2="456.50" y2="347.50" stroke="#111" stroke-width="1.5"/>
<line x1="481.50" y1="334.40" x2="481.50" y2="335.80" stroke="#000" stroke-width="1.2"/>
<line x1="481.50" y1="353.75" x2="481.50" y2="357.25" stroke="#000" stroke-width="1.2"/>
<line x1="479.05" y1="334.50" x2="483.45" y2="334.50" stroke="#000" stroke-width="1.3"/>
<line x1="479.05" y1="357.50" x2="483.45" y2="357.50" stroke="#000" stroke-width="1.3"/>
<rect x="477.25" y="335.80" width="8.00" height="17.95" fill="#57296F" stroke="#1a1a1a" stroke-width="0.7"/>
<line x1="477.25" y1="344.50" x2="485.25" y2="344.50" stroke="#111" stroke-width="1.5"/>
<line x1="451.00" y1="321.50" x2="460.60" y2="321.50" stroke="#000" stroke-width="1.2"/>
<line x1="451.50" y1="318.15" x2="451.50" y2="325.65" stroke="#000" stroke-width="1.2"/>
<line x1="460.50" y1="318.15" x2="460.50" y2="325.65" stroke="#000" stroke-width="1.2"/>
<circle cx="456.60" cy="316.50" r="1.15" fill="#111"/>
<line x1="451.00" y1="302.50" x2="468.10" y2="302.50" stroke="#000" stroke-width="1.2"/>
<line x1="451.50" y1="298.65" x2="451.50" y2="306.15" stroke="#000" stroke-width="1.2"/>
<line x1="468.50" y1="298.65" x2="468.50" y2="306.15" stroke="#000" stroke-width="1.2"/>
<circle cx="459.40" cy="296.90" r="1.15" fill="#111"/>
<text transform="translate(336.00,396.80) scale(1.05,1) rotate(-46.5)" font-size="9.3" text-anchor="end">unst .</text>
<text transform="translate(381.00,396.80) scale(1.05,1) rotate(-46.5)" font-size="9.3" text-anchor="end">IgG</text>
<text transform="translate(426.00,396.80) scale(1.05,1) rotate(-46.5)" font-size="9.3" text-anchor="end">HL5B</text>
<text transform="translate(471.00,396.80) scale(1.05,1) rotate(-46.5)" font-size="9.3" text-anchor="end">ATG</text>
<text transform="translate(267.10,360.70) rotate(-90) scale(0.7,1)" font-size="11" font-weight="bold" style="fill:#3c3c3c">MFI (AnnexinV-FITC)</text>
<rect x="287.30" y="421.90" width="14.30" height="8.60" fill="#A5032D" stroke="#333" stroke-width="0.4"/>
<text transform="translate(305.6,428.50) scale(1.1,1)" font-size="9.0">C57BL/6J</text>
<rect x="361.30" y="421.90" width="14.30" height="8.60" fill="#2A4C86" stroke="#333" stroke-width="0.4"/>
<text transform="translate(380.0,431.10) scale(0.98,1)" font-size="10.2" font-style="italic">C3<tspan font-size="7" dy="-3">-/-</tspan></text>
<rect x="411.30" y="421.90" width="14.30" height="8.60" fill="#67AC3E" stroke="#333" stroke-width="0.4"/>
<text transform="translate(429.8,431.10) scale(0.98,1)" font-size="10.2" font-style="italic">C5<tspan font-size="7" dy="-3">-/-</tspan></text>
<rect x="461.30" y="421.90" width="14.30" height="8.60" fill="#57296F" stroke="#333" stroke-width="0.4"/>
<text transform="translate(480.0,431.10) scale(0.98,1)" font-size="10.2" font-style="italic">Lrp8<tspan font-size="7" dy="-3">-/-</tspan></text>
</svg></div></body></html>
